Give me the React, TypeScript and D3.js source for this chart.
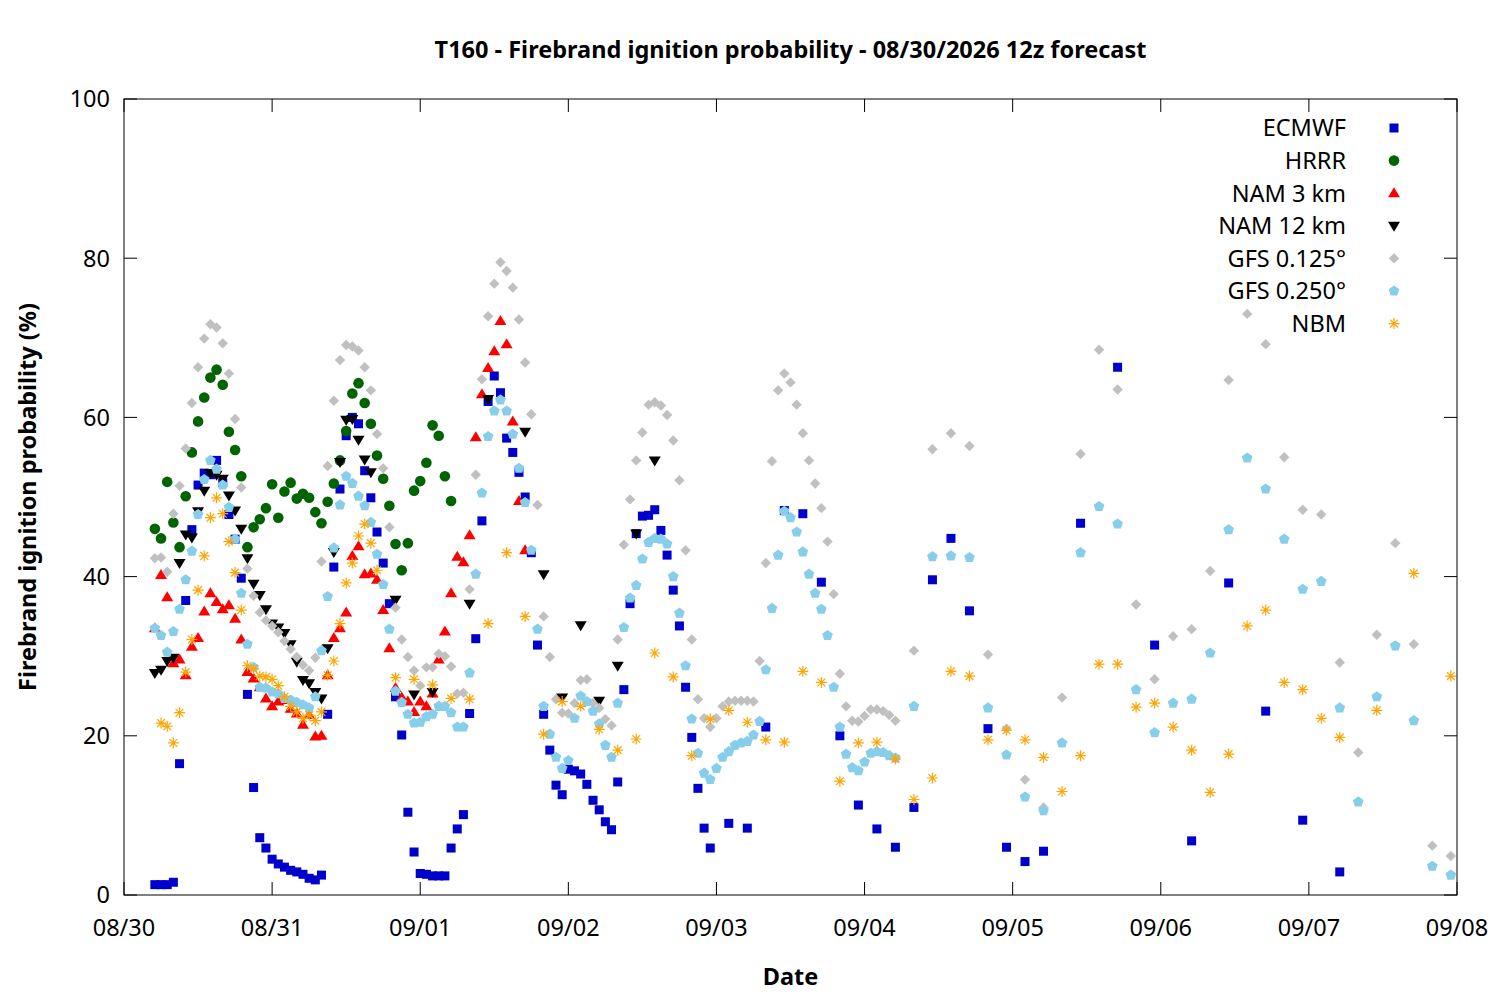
import React from 'react';
import * as d3 from 'd3';

// ---- chart text ----
const TITLE = 'T160 - Firebrand ignition probability - 08/30/2026 12z forecast';
const X_LABEL = 'Date';
const Y_LABEL = 'Firebrand ignition probability (%)';
const Y_TICKS = [0, 20, 40, 60, 80, 100];

// ---- time axis: forecast valid times, hours after 08/30 00:00 ----
const START_DATE = Date.UTC(2026, 7, 30, 0);
const END_DATE = Date.UTC(2026, 8, 8, 0);

// ---- ECMWF ----
const ecmwfHourly = [
  1.3, 1.3, 1.3, 1.6, 16.5, 37.0, 45.9, 51.5, 53.0, 52.8, 54.6, 51.8, 47.8, 44.7, 39.8, 25.2,
  13.5, 7.2, 5.9, 4.5, 3.9, 3.5, 3.1, 2.9, 2.6, 2.1, 1.9, 2.5, 22.7, 41.2, 51.0, 57.7,
  60.0, 59.2, 53.3, 49.9, 45.6, 41.7, 36.6, 24.9, 20.1, 10.4, 5.4, 2.7, 2.6, 2.4, 2.4, 2.4,
  5.9, 8.3, 10.1, 22.8, 32.2, 47.0, 62.0, 65.2, 63.1, 57.4, 55.6, 53.1, 50.0, 43.0, 31.4, 22.7,
  18.2, 13.8, 12.6, 15.8, 15.6, 15.2, 13.9, 11.9, 10.7, 9.2, 8.2, 14.2, 25.8, 36.6, 45.4, 47.6,
  47.7, 48.4, 45.8, 42.7, 38.3, 33.8, 26.1, 19.8, 13.4, 8.4, 5.9,
]; // hours 5..95
const ecmwf3h = [9.0, 8.4, 21.1, 48.3, 47.9, 39.3, 20.0, 11.3, 8.3, 6.0, 11.0, 39.6, 44.8, 35.7, 20.9, 6.0, 4.2, 5.5]; // 98..149
const ecmwf6h = [46.7, 66.3, 31.4, 6.8, 39.2, 23.1, 9.4, 2.9]; // 155..197

// ---- HRRR ----
const hrrrHourly = [
  46.0, 44.8, 51.9, 46.8, 43.7, 50.1, 55.6, 59.5, 62.5, 65.0, 66.0, 64.1, 58.2, 55.9, 52.6, 43.7,
  46.2, 47.2, 48.6, 51.6, 47.4, 50.7, 51.8, 49.8, 50.4, 49.9, 48.1, 46.7, 49.4, 51.7, 54.6, 58.3,
  63.0, 64.3, 61.8, 59.2, 55.2, 52.3, 48.9, 44.1, 40.8, 44.2, 50.8, 52.0, 54.3, 59.0, 57.7, 52.6,
  49.5,
]; // hours 5..53

// ---- NAM 3 km ----
const nam3Hourly = [
  33.5, 40.2, 37.4, 29.1, 29.6, 27.6, 31.2, 32.3, 35.6, 37.9, 36.8, 35.9, 36.4, 34.7, 32.1, 28.0,
  27.2, 26.1, 24.7, 23.7, 24.3, 24.5, 23.4, 22.8, 21.4, 22.6, 19.9, 20.0, 27.6, 32.3, 33.5, 35.5,
  42.6, 43.8, 40.3, 40.4, 39.6, 35.8, 31.0, 26.0, 24.8, 24.3, 23.0, 24.3, 23.7, 25.3, 29.6, 33.1,
  37.9, 42.5, 41.8, 45.2, 57.5, 62.9, 66.2, 68.3, 72.1, 69.2, 59.5, 49.5, 43.3,
]; // hours 5..65

// ---- NAM 12 km ----
const nam12Hourly = [
  27.9, 28.3, 29.4, 29.8, 41.7, 45.3, 44.9, 48.2, 50.8, 53.0, 52.8, 52.3, 50.2, 48.3, 46.0, 42.3,
  39.1, 37.7, 35.9, 34.1, 33.6, 32.9, 31.5, 29.3, 27.0, 26.6, 25.5, 24.7, 31.0, 43.1, 54.4, 59.7,
  59.8, 57.2, 54.7, 53.1,
]; // hours 5..40
const nam12LateHours = [44, 47, 50, 56, 59, 65, 68, 71, 74, 77, 80, 83, 86];
const nam12LateValues = [37.1, 25.2, 25.5, 36.6, 62.3, 58.2, 40.3, 24.8, 33.9, 24.4, 28.8, 45.4, 54.6];

// ---- GFS 0.125 ----
const gfs125Hourly = [
  42.3, 42.4, 40.6, 47.9, 51.4, 56.1, 61.8, 66.3, 69.9, 71.7, 71.3, 69.3, 65.5, 59.8, 51.2, 41.0,
  37.6, 35.5, 34.5, 33.8, 33.0, 31.9, 30.9, 29.9, 28.9, 28.2, 29.8, 41.9, 53.9, 62.1, 67.2, 69.1,
  68.9, 68.4, 66.3, 63.4, 57.9, 53.6, 46.2, 36.1, 32.1, 29.9, 28.2, 26.3, 28.6, 28.6, 30.3, 30.0,
  28.7, 25.3, 25.4, 38.4, 52.8, 64.8, 72.7, 76.8, 79.5, 78.4, 76.3, 72.3, 66.9, 60.4, 49.0, 35.0,
  29.9, 24.6, 22.9, 22.8, 24.1, 27.0, 27.1, 24.1, 23.5, 22.1, 21.3, 32.1, 44.0, 49.7, 54.6, 58.1,
  61.6, 61.9, 61.5, 60.3, 57.1, 52.1, 43.3, 32.1, 24.6, 22.2, 21.1, 22.2, 23.7, 24.3, 24.4, 24.4,
  24.4, 24.3, 29.4, 41.7, 54.5, 63.4, 65.5, 64.4, 61.6, 58.0, 54.6, 51.7, 48.6, 44.4, 37.8, 27.8,
  23.7, 21.9, 21.8, 22.5, 23.3, 23.3, 23.1, 22.6, 21.9,
]; // hours 5..125
const gfs125ThreeHourly = [
  30.7, 56.0, 58.0, 56.4, 30.2, 20.9, 14.5, 11.0, 24.8, 55.4, 68.5, 63.5, 36.5, 27.1, 32.5, 33.4,
  40.7, 64.7, 73.0, 69.2, 55.0, 48.4, 47.8, 29.2, 17.9, 32.7, 44.2, 31.5, 6.2, 4.9,
]; // hours 128..215

// ---- GFS 0.250 ----
const gfs250Hourly = [
  33.5, 32.6, 30.5, 33.1, 35.9, 39.6, 43.2, 47.8, 52.2, 54.6, 53.5, 51.5, 48.7, 44.7, 37.9, 31.5,
  28.6, 26.1, 26.0, 25.5, 25.3, 24.7, 24.5, 24.2, 23.9, 23.5, 24.9, 30.7, 37.5, 43.6, 49.0, 52.6,
  51.7, 50.1, 48.9, 46.8, 42.8, 39.0, 33.4, 25.6, 24.2, 22.7, 21.6, 21.7, 22.4, 22.7, 23.7, 23.7,
  22.9, 21.1, 21.1, 27.9, 40.3, 50.5, 57.6, 60.8, 62.2, 60.8, 57.9, 53.6, 49.3, 43.3, 33.4, 23.7,
  20.2, 17.3, 15.9, 16.9, 22.2, 25.0, 24.3, 23.1, 21.5, 18.8, 17.3, 24.1, 33.6, 37.3, 38.9, 42.2,
  44.3, 44.8, 44.7, 44.1, 40.0, 35.4, 28.8, 22.1, 17.8, 15.3, 14.5, 15.9, 17.3, 18.0, 18.8, 19.1,
  19.3, 20.1, 21.8, 28.3, 36.0, 42.7, 48.2, 47.4, 45.6, 43.1, 40.3, 37.9, 35.9, 32.6, 26.1, 21.1,
  17.7, 16.0, 15.6, 16.7, 17.8, 18.0, 17.9, 17.5, 17.2,
]; // hours 5..125
const gfs250ThreeHourly = [
  23.7, 42.5, 42.6, 42.4, 23.5, 17.6, 12.3, 10.6, 19.1, 43.0, 48.8, 46.6, 25.8, 20.4, 24.1, 24.6,
  30.4, 45.9, 54.9, 51.0, 44.7, 38.4, 39.4, 23.5, 11.7, 24.9, 31.3, 21.9, 3.6, 2.5,
]; // hours 128..215

// ---- NBM ----
const nbmHourly = [
  21.6, 21.2, 19.1, 22.9, 28.0, 32.1, 38.3, 42.6, 47.4, 49.9, 47.9, 44.4, 40.5, 35.8, 28.8, 28.4,
  27.5, 27.4, 27.1, 26.3, 24.9, 23.7, 23.0, 22.2, 22.6, 21.9, 23.0, 27.6, 29.4, 34.1, 39.2, 41.7,
  45.1, 46.6, 44.2, 40.8,
]; // hours 6..41
const nbmThreeHourly = [
  27.3, 27.1, 26.4, 24.7, 24.6, 34.1, 43.0, 35.0, 20.2, 24.3, 23.7, 20.8, 18.2, 19.6, 30.4, 27.4,
  17.5, 22.1, 23.2, 21.7, 19.5, 19.2, 28.1, 26.7, 14.3, 19.1, 19.2, 17.1, 12.0, 14.7, 28.1, 27.5,
  19.5, 20.7, 19.5, 17.3, 13.0, 17.5, 29.0, 29.0, 23.6, 24.1, 21.1, 18.2, 12.9, 17.7, 33.8, 35.8,
  26.7, 25.8, 22.2, 19.8,
]; // hours 44..197
const nbmSixHourly = [23.2, 40.4, 27.5]; // hours 203..215

type Pt = { t: Date; v: number };
const at = (h: number) => new Date(START_DATE + h * 3600 * 1000);
const seq = (start: number, step: number, values: number[]): Pt[] =>
  values.map((v, i) => ({ t: at(start + step * i), v }));
const listed = (hours: number[], values: number[]): Pt[] => values.map((v, i) => ({ t: at(hours[i]), v }));

type Shape = 'square' | 'circle' | 'triUp' | 'triDown' | 'diamond' | 'pentagon' | 'asterisk';
const SERIES: { name: string; color: string; shape: Shape; data: Pt[] }[] = [
  { name: 'ECMWF', color: '#0000cc', shape: 'square', data: [...seq(5, 1, ecmwfHourly), ...seq(98, 3, ecmwf3h), ...seq(155, 6, ecmwf6h)] },
  { name: 'HRRR', color: '#006400', shape: 'circle', data: seq(5, 1, hrrrHourly) },
  { name: 'NAM 3 km', color: '#ff0000', shape: 'triUp', data: seq(5, 1, nam3Hourly) },
  { name: 'NAM 12 km', color: '#000000', shape: 'triDown', data: [...seq(5, 1, nam12Hourly), ...listed(nam12LateHours, nam12LateValues)] },
  { name: 'GFS 0.125°', color: '#c0c0c0', shape: 'diamond', data: [...seq(5, 1, gfs125Hourly), ...seq(128, 3, gfs125ThreeHourly)] },
  { name: 'GFS 0.250°', color: '#87ceeb', shape: 'pentagon', data: [...seq(5, 1, gfs250Hourly), ...seq(128, 3, gfs250ThreeHourly)] },
  { name: 'NBM', color: '#ffa500', shape: 'asterisk', data: [...seq(6, 1, nbmHourly), ...seq(44, 3, nbmThreeHourly), ...seq(203, 6, nbmSixHourly)] },
];

const pentagonPath = (() => {
  const r = 5.6;
  const pts = d3.range(5).map((k) => {
    const a = (-90 + 72 * k) * (Math.PI / 180);
    return [r * Math.cos(a), r * Math.sin(a)];
  });
  return 'M' + pts.map((p) => p[0].toFixed(2) + ',' + p[1].toFixed(2)).join('L') + 'Z';
})();

function Marker({ shape, color, x, y }: { shape: Shape; color: string; x: number; y: number }) {
  const tr = `translate(${x},${y})`;
  switch (shape) {
    case 'square':
      return <rect x={x - 4.5} y={y - 4.5} width={9} height={9} fill={color} />;
    case 'circle':
      return <circle cx={x} cy={y} r={5.3} fill={color} />;
    case 'triUp':
      return <path transform={tr} d="M0,-6L6,4L-6,4Z" fill={color} />;
    case 'triDown':
      return <path transform={tr} d="M0,6L6,-4L-6,-4Z" fill={color} />;
    case 'diamond':
      return <path transform={tr} d="M0,-5.2L5.2,0L0,5.2L-5.2,0Z" fill={color} />;
    case 'pentagon':
      return <path transform={tr} d={pentagonPath} fill={color} />;
    case 'asterisk':
      return (
        <path
          transform={tr}
          d="M-5.5,0H5.5M0,-5.5V5.5M-3.9,-3.9L3.9,3.9M-3.9,3.9L3.9,-3.9"
          stroke={color}
          strokeWidth={1.2}
          fill="none"
        />
      );
  }
  return null;
}

const FONT = '"Noto Sans", "Open Sans", sans-serif';
const FS = 23.5;

export default function App() {
  const W = 1500;
  const H = 1000;
  const left = 124;
  const right = 1457;
  const top = 99;
  const bottom = 895;

  const x = d3.scaleUtc().domain([new Date(START_DATE), new Date(END_DATE)]).range([left, right]);
  const y = d3.scaleLinear().domain([0, 100]).range([bottom, top]);
  const xTicks = x.ticks(d3.utcDay.every(1)!);
  const fmt = d3.utcFormat('%m/%d');
  const tickLen = 13;

  const legendRight = 1346;
  const legendMarkerX = 1394;
  const legendTop = 128;
  const legendStep = 32.6;

  return (
    <svg
      width={W}
      height={H}
      style={{ position: 'absolute', left: 0, top: 0, background: '#fff' }}
      fontFamily={FONT}
    >
      <rect x={0} y={0} width={W} height={H} fill="#fff" />
      {/* ticks */}
      <g stroke="#000" strokeWidth={1}>
        {Y_TICKS.map((t) => (
          <g key={'y' + t}>
            <line x1={left} x2={left + tickLen} y1={y(t)} y2={y(t)} />
            <line x1={right} x2={right - tickLen} y1={y(t)} y2={y(t)} />
          </g>
        ))}
        {xTicks.map((t) => (
          <g key={'x' + t.getTime()}>
            <line x1={x(t)} x2={x(t)} y1={bottom} y2={bottom - tickLen} />
            <line x1={x(t)} x2={x(t)} y1={top} y2={top + tickLen} />
          </g>
        ))}
      </g>
      {/* tick labels */}
      <g fontSize={FS} fill="#000">
        {Y_TICKS.map((t) => (
          <text key={'yl' + t} x={left - 14} y={y(t)} dy="0.36em" textAnchor="end">
            {t}
          </text>
        ))}
        {xTicks.map((t) => (
          <text key={'xl' + t.getTime()} x={x(t)} y={bottom + 33} dy="0.36em" textAnchor="middle">
            {fmt(t)}
          </text>
        ))}
      </g>
      {/* data */}
      {SERIES.map((s) => (
        <g key={s.name}>
          {s.data.map((d, i) => (
            <Marker key={i} shape={s.shape} color={s.color} x={x(d.t)} y={y(d.v)} />
          ))}
        </g>
      ))}
      {/* frame */}
      <rect x={left} y={top} width={right - left} height={bottom - top} fill="none" stroke="#000" strokeWidth={1} />
      {/* legend */}
      {SERIES.map((s, i) => {
        const ly = legendTop + i * legendStep;
        return (
          <g key={'lg' + s.name}>
            <text x={legendRight} y={ly} dy="0.36em" textAnchor="end" fontSize={FS} fill="#000">
              {s.name}
            </text>
            <Marker shape={s.shape} color={s.color} x={legendMarkerX} y={ly} />
          </g>
        );
      })}
      {/* titles */}
      <text x={(left + right) / 2} y={50} dy="0.36em" textAnchor="middle" fontSize={FS} fontWeight="bold">
        {TITLE}
      </text>
      <text x={(left + right) / 2} y={977} dy="0.36em" textAnchor="middle" fontSize={FS} fontWeight="bold">
        {X_LABEL}
      </text>
      <text
        transform={`translate(28,${(top + bottom) / 2}) rotate(-90)`}
        dy="0.36em"
        textAnchor="middle"
        fontSize={FS}
        fontWeight="bold"
      >
        {Y_LABEL}
      </text>
    </svg>
  );
}
